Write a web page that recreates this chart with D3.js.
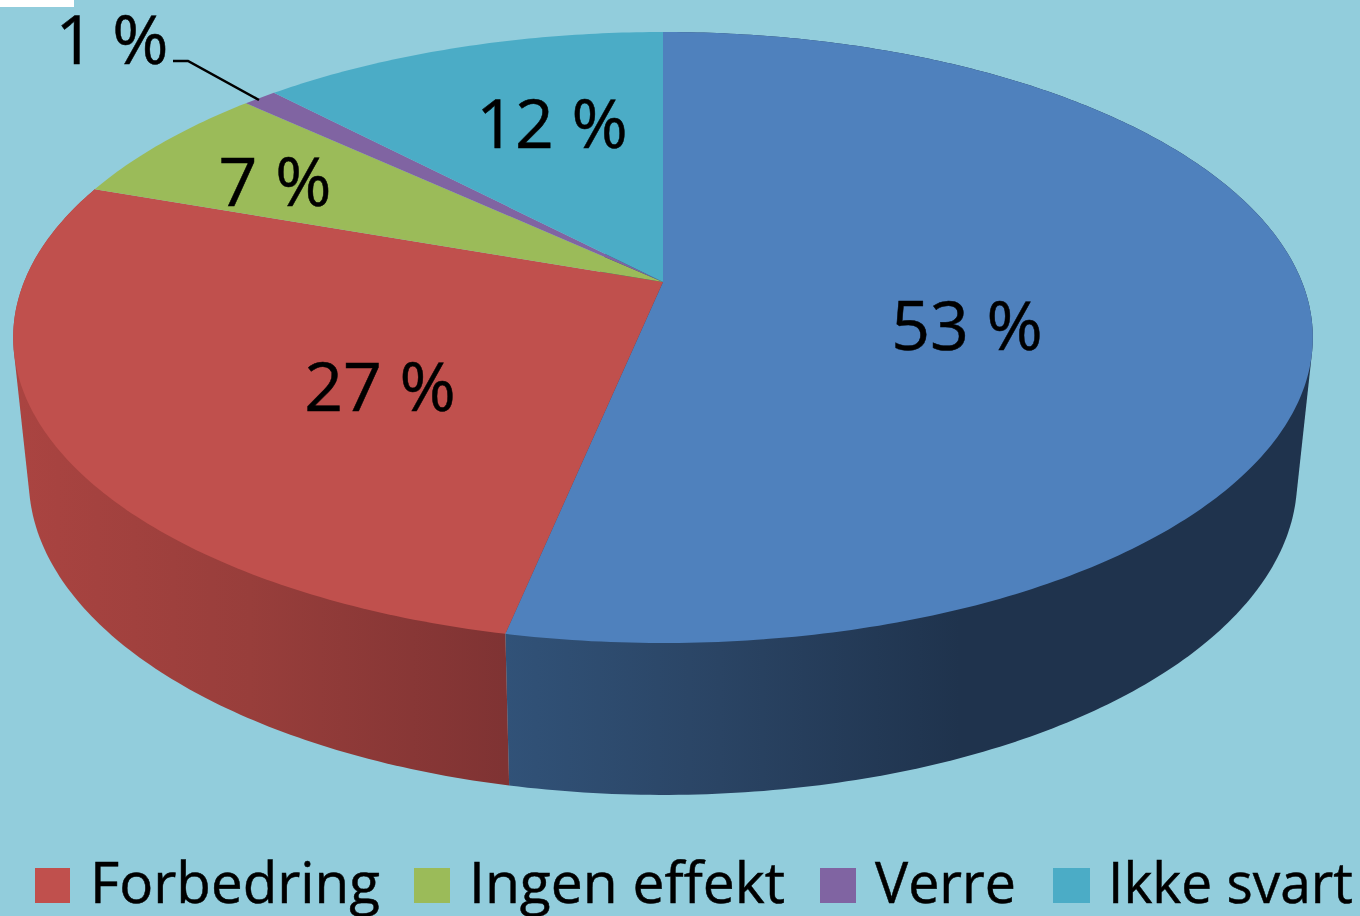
<!DOCTYPE html>
<html>
<head>
<meta charset="utf-8">
<script src="https://cdn.jsdelivr.net/npm/d3@7"></script>
<style>
html, body { margin: 0; padding: 0; background: #92cddc; overflow: hidden; }
svg { display: block; }
text { font-family: "Open Sans", sans-serif; fill: #000; stroke: #000; stroke-width: 0.5; }
</style>
</head>
<body>
<svg id="chart" width="1360" height="916"></svg>
<script>
const categories = ['Forbedring', 'Ingen effekt', 'Verre', 'Ikke svart']
const sliceValues = [53.25, 27.15, 6.5, 1.0, 12.1]
const valueLabels = ['53 %', '27 %', '7 %', '1 %', '12 %']
const sliceColors = ['#4f81bd', '#c0504d', '#9bbb59', '#8064a2', '#4bacc6']
const legendColors = sliceColors.slice(1)

const svg = d3.select('#chart')
const defs = svg.append('defs')

// the disc is a circle in perspective, so the apex sits above the ellipse centre
const persp = 0.1817
const wallHeight = 140
function project(angle, bottom) {
    const u = Math.sin(angle), v = Math.cos(angle)
    const w = 1 + persp * v
    // the lower rim is narrower but a little deeper than the top
    const sx = bottom ? 0.976 : 1
    const sy = bottom ? 1.033 : 1
    return [663 + 639 * sx * u / w, 282 + (bottom ? wallHeight : 0) + 295.4 * sy * -v / w]
}

const pie = d3.pie().sort(null).value(d => d)
const arcs = pie(sliceValues)

function sample(a0, a1) {
    const n = Math.max(2, Math.ceil((a1 - a0) * 80))
    return d3.range(n + 1).map(i => a0 + (a1 - a0) * i / n)
}
const line = d3.line().curve(d3.curveLinear)

// walls: only the front halves can be seen, the top covers the rest
const wallStops = [
    [[505, '#315278'], [720, '#2a4464'], [960, '#1f334d'], [1300, '#1f334d']],
    [[20, '#aa4441'], [250, '#983e3b'], [505, '#7f3333']],
]
wallStops.forEach((stops, i) => {
    const g = defs.append('linearGradient')
        .attr('id', 'wall' + i)
        .attr('gradientUnits', 'userSpaceOnUse')
        .attr('x1', stops[0][0]).attr('x2', stops[stops.length - 1][0])
        .attr('y1', 0).attr('y2', 0)
    const x = d3.scaleLinear().domain([stops[0][0], stops[stops.length - 1][0]]).range([0, 1])
    g.selectAll('stop').data(stops).enter().append('stop')
        .attr('offset', d => x(d[0]))
        .attr('stop-color', d => d[1])
})
svg.append('g').selectAll('path').data(arcs.slice(0, 2)).enter().append('path')
    .attr('d', d => {
        const ang = sample(d.startAngle, d.endAngle)
        // hull so the tapered sides join the top at its tangent
        const pts = ang.map(a => project(a)).concat(ang.map(a => project(a, true)))
        return line(d3.polygonHull(pts)) + 'Z'
    })
    .attr('fill', (d, i) => 'url(#wall' + i + ')')

// top of the disc
const apex = [663, 282]
svg.append('g').selectAll('path').data(arcs).enter().append('path')
    .attr('d', d => line([apex].concat(sample(d.startAngle, d.endAngle).map(a => project(a)))) + 'Z')
    .attr('fill', (d, i) => sliceColors[i])

// value labels
const labelPos = [[967, 326], [380, 387], [275, 182], [112, 40], [552, 124]]
svg.append('g').selectAll('text').data(valueLabels).enter().append('text')
    .attr('x', (d, i) => labelPos[i][0])
    .attr('y', (d, i) => labelPos[i][1])
    .attr('dy', '0.36em')
    .attr('text-anchor', 'middle')
    .attr('font-size', 68)
    .text(d => d)

// leader for the 1 % slice
svg.append('path')
    .attr('d', line([[173, 61], [188, 61], [259, 100]]))
    .attr('fill', 'none')
    .attr('stroke', '#000')
    .attr('stroke-width', 2.5)

// legend
const legendX = [35, 414, 820, 1053]
const legendW = [35, 36, 36, 37]
const legend = svg.append('g').selectAll('g').data(categories).enter().append('g')
    .attr('transform', (d, i) => 'translate(' + legendX[i] + ' 868)')
legend.append('rect')
    .attr('width', (d, i) => legendW[i])
    .attr('height', 35)
    .attr('fill', (d, i) => legendColors[i])
const legendTextW = [290, 316, 141, 245]
legend.append('text')
    .attr('x', 55)
    .attr('y', 35)
    .attr('font-size', 56)
    .attr('textLength', (d, i) => legendTextW[i])
    .attr('lengthAdjust', 'spacingAndGlyphs')
    .text(d => d)

// white scrap in the corner of the source image
svg.append('rect').attr('width', 74).attr('height', 7).attr('fill', '#fff')
</script>
</body>
</html>
